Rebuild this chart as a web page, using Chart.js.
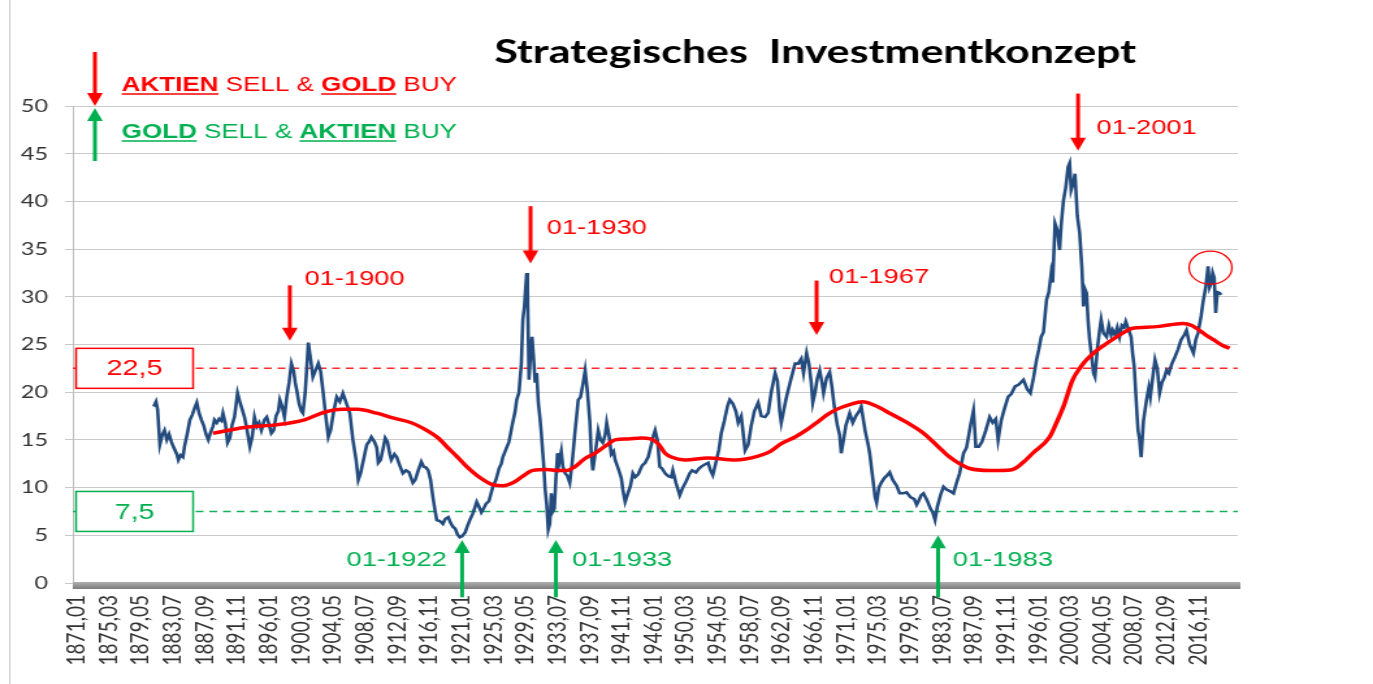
<!DOCTYPE html>
<html>
<head>
<meta charset="utf-8">
<script src="https://cdn.jsdelivr.net/npm/chart.js@4"></script>
<style>
  html, body { margin: 0; padding: 0; background: #fff; overflow: hidden; }
  #wrap { width: 1056px; height: 684px; transform: scaleX(1.3002); transform-origin: 0 0; }
</style>
</head>
<body>
<div id="wrap"><canvas id="chart"></canvas></div>
<script>
// x tick labels (every 50 months)
const tickLabels = ['1871,01','1875,03','1879,05','1883,07','1887,09','1891,11','1896,01','1900,03','1904,05','1908,07','1912,09','1916,11','1921,01','1925,03','1929,05','1933,07','1937,09','1941,11','1946,01','1950,03','1954,05','1958,07','1962,09','1966,11','1971,01','1975,03','1979,05','1983,07','1987,09','1991,11','1996,01','2000,03','2004,05','2008,07','2012,09','2016,11'];

// KGV (blue), decimal years
const capeYears = [1881.0,1881.3,1881.5,1881.8,1882.1,1882.4,1882.7,1883.0,1883.3,1883.6,1884.0,1884.2,1884.5,1884.8,1885.0,1885.4,1885.7,1886.0,1886.3,1886.6,1886.9,1887.2,1887.5,1887.8,1888.1,1888.4,1888.7,1888.9,1889.2,1889.5,1889.8,1890.0,1890.3,1890.6,1890.9,1891.2,1891.5,1891.9,1892.2,1892.5,1892.8,1893.1,1893.5,1893.8,1894.1,1894.4,1894.7,1895.0,1895.4,1895.7,1896.0,1896.3,1896.6,1896.9,1897.2,1897.4,1897.7,1898.0,1898.3,1898.6,1898.9,1899.2,1899.4,1899.6,1899.9,1900.2,1900.4,1900.7,1900.9,1901.1,1901.4,1901.7,1902.0,1902.4,1902.7,1903.0,1903.3,1903.7,1904.0,1904.4,1904.8,1905.2,1905.6,1905.9,1906.2,1906.5,1906.9,1907.3,1907.6,1907.9,1908.3,1908.7,1909.0,1909.3,1909.7,1910.0,1910.2,1910.5,1910.8,1911.1,1911.4,1911.7,1911.9,1912.3,1912.6,1913.0,1913.4,1913.8,1914.2,1914.7,1915.0,1915.4,1915.8,1916.1,1916.4,1916.7,1917.0,1917.3,1917.6,1917.8,1918.2,1918.6,1918.9,1919.3,1919.6,1919.9,1920.2,1920.5,1920.8,1921.1,1921.5,1921.8,1922.1,1922.5,1922.8,1923.0,1923.3,1923.6,1923.9,1924.2,1924.6,1925.1,1925.5,1925.9,1926.2,1926.4,1926.8,1927.2,1927.6,1928.0,1928.2,1928.5,1928.8,1929.0,1929.2,1929.5,1929.6,1929.8,1930.0,1930.2,1930.4,1930.6,1930.8,1931.0,1931.2,1931.4,1931.7,1931.9,1932.1,1932.3,1932.5,1932.7,1932.9,1933.1,1933.3,1933.5,1933.7,1934.0,1934.2,1934.5,1934.8,1935.1,1935.4,1935.8,1936.2,1936.5,1936.8,1937.1,1937.4,1937.7,1937.9,1938.1,1938.4,1938.8,1939.1,1939.4,1939.7,1939.9,1940.2,1940.5,1940.8,1941.0,1941.4,1941.8,1942.0,1942.3,1942.7,1943.0,1943.3,1943.6,1944.0,1944.5,1944.9,1945.3,1945.7,1946.0,1946.2,1946.5,1946.8,1947.1,1947.5,1947.9,1948.3,1948.5,1948.9,1949.4,1949.8,1950.2,1950.7,1951.0,1951.5,1951.9,1952.2,1952.6,1953.1,1953.4,1953.7,1954.1,1954.5,1954.8,1955.2,1955.6,1955.9,1956.3,1956.7,1957.0,1957.4,1957.9,1958.3,1958.7,1959.1,1959.6,1960.0,1960.5,1960.9,1961.3,1961.8,1962.1,1962.4,1962.6,1962.9,1963.2,1963.5,1963.9,1964.4,1964.8,1965.2,1965.5,1965.9,1966.2,1966.5,1966.7,1967.0,1967.3,1967.6,1967.9,1968.1,1968.5,1968.9,1969.2,1969.5,1969.9,1970.2,1970.4,1970.7,1971.0,1971.5,1971.9,1972.3,1972.8,1973.0,1973.5,1973.9,1974.1,1974.5,1974.8,1975.0,1975.3,1975.6,1976.0,1976.4,1976.7,1977.1,1977.6,1978.0,1978.5,1978.9,1979.4,1979.9,1980.2,1980.4,1980.8,1981.1,1981.6,1982.0,1982.3,1982.6,1982.9,1983.3,1983.7,1984.1,1984.6,1985.0,1985.4,1985.8,1986.3,1986.7,1987.2,1987.6,1987.9,1988.3,1988.7,1989.2,1989.7,1990.1,1990.5,1990.8,1991.2,1991.6,1992.1,1992.5,1993.0,1993.5,1994.1,1994.6,1995.0,1995.4,1995.8,1996.1,1996.4,1996.7,1997.1,1997.4,1997.7,1997.9,1998.2,1998.5,1998.8,1999.0,1999.3,1999.6,1999.9,2000.1,2000.3,2000.6,2000.8,2001.1,2001.4,2001.7,2001.9,2002.1,2002.3,2002.5,2002.7,2003.0,2003.2,2003.4,2003.7,2004.0,2004.2,2004.5,2004.9,2005.2,2005.5,2005.7,2006.0,2006.3,2006.6,2006.9,2007.2,2007.4,2007.8,2008.1,2008.3,2008.5,2008.8,2009.0,2009.2,2009.4,2009.7,2010.1,2010.4,2010.6,2010.9,2011.2,2011.5,2011.8,2012.1,2012.4,2012.7,2013.0,2013.4,2013.8,2014.2,2014.6,2015.0,2015.3,2015.7,2016.2,2016.5,2016.8,2017.2,2017.5,2017.8,2018.1,2018.3,2018.5,2018.7,2018.9,2019.1,2019.3,2019.6,2019.8];
const capeValues = [18.5,19.0,18.2,14.5,15.5,16.0,15.0,15.6,14.8,14.2,13.5,12.9,13.4,13.2,14.3,15.8,17.1,17.6,18.3,18.9,17.8,17.1,16.5,15.6,15.0,15.8,16.4,17.1,16.8,17.2,17.0,17.8,16.8,14.7,15.2,16.6,17.4,19.9,19.0,18.2,17.4,16.2,14.3,15.3,17.4,16.4,16.8,16.0,17.1,17.4,16.6,15.7,16.0,17.5,18.0,19.2,18.5,17.4,19.5,21.0,23.0,22.2,21.0,20.2,18.8,18.0,17.8,20.0,22.5,25.2,23.5,21.6,22.2,23.0,22.2,20.2,18.0,15.3,16.0,18.0,19.5,19.0,19.9,19.2,18.5,17.8,15.0,13.0,10.8,11.5,13.0,14.5,14.8,15.3,14.8,14.2,12.6,12.9,14.0,15.2,14.8,13.5,12.9,13.5,13.2,12.3,11.5,11.8,11.6,10.5,10.8,11.8,12.7,12.2,12.1,11.8,10.8,9.0,7.5,6.6,6.5,6.2,6.7,6.9,6.3,5.9,5.7,5.1,4.8,4.9,5.3,6.0,6.6,7.3,8.0,8.5,8.0,7.4,7.8,8.3,8.6,10.1,10.8,12.0,12.5,13.2,14.0,14.8,16.5,18.0,19.2,20.0,23.0,27.6,29.0,32.5,31.0,21.3,24.0,25.8,23.5,21.0,22.0,19.0,17.5,15.7,12.5,9.8,8.2,5.6,6.2,9.4,7.5,7.8,11.0,13.6,12.5,13.8,12.2,11.5,11.2,10.5,12.5,16.0,19.2,19.5,20.8,22.3,20.0,17.0,13.5,11.8,13.5,16.0,15.0,14.7,15.5,16.8,15.5,13.5,13.8,12.9,12.0,11.0,9.8,8.5,9.5,10.2,11.5,11.1,11.4,12.3,12.6,13.2,14.5,15.5,16.0,15.0,12.2,12.0,11.5,11.2,11.1,11.8,10.5,9.2,10.0,10.6,11.5,11.8,11.6,12.0,12.2,12.4,12.6,11.8,11.3,12.6,14.0,15.7,17.0,18.5,19.2,18.8,18.0,16.8,17.5,13.9,14.5,16.5,18.0,18.9,17.5,17.4,17.8,20.0,22.0,21.2,18.0,16.8,18.0,19.2,20.2,21.5,23.0,23.0,23.5,22.0,24.1,23.0,21.0,18.9,20.0,21.5,22.3,21.0,19.9,21.5,22.1,20.5,18.5,16.5,15.5,13.6,15.0,16.5,17.8,16.8,17.5,18.1,18.5,16.0,14.5,13.6,11.0,9.0,8.4,10.0,10.5,11.0,11.3,11.6,10.8,10.2,9.4,9.4,9.5,9.0,8.8,8.2,8.5,9.2,9.4,8.6,7.8,7.4,6.6,8.0,9.2,10.1,9.8,9.6,9.4,10.5,11.5,13.6,14.2,16.5,18.1,14.3,14.3,14.8,16.0,17.4,16.8,17.2,15.0,17.0,18.2,19.5,19.8,20.6,20.8,21.3,20.3,19.9,21.5,23.4,24.5,25.8,26.3,29.7,30.5,32.5,31.5,37.7,37.0,34.9,37.5,40.1,41.5,43.6,44.0,41.2,42.0,42.9,38.5,36.7,33.0,29.0,30.8,30.4,27.5,25.5,23.5,22.0,21.6,24.5,26.5,27.6,26.2,25.8,27.0,26.0,26.5,26.0,26.8,25.8,27.0,26.8,27.4,26.5,25.8,24.0,22.7,18.5,16.0,15.0,13.2,17.0,19.2,20.5,19.5,21.5,23.4,22.5,19.9,21.0,21.5,22.3,22.0,23.0,23.7,24.5,25.5,26.0,26.5,25.0,24.1,25.5,26.2,28.0,29.7,31.0,33.2,31.0,31.4,32.5,32.0,28.3,30.5,30.4,30.2];

// smoothed average (red)
const maYears = [1888.7,1892.8,1897.2,1900.6,1903.2,1905.5,1907.5,1910.0,1912.1,1914.5,1916.5,1918.0,1919.1,1920.5,1921.7,1923.5,1925.1,1926.5,1927.7,1929.0,1930.3,1932.1,1933.5,1934.7,1935.8,1937.0,1938.4,1939.8,1941.0,1942.7,1944.4,1945.6,1946.6,1947.5,1948.3,1950.1,1953.1,1956.6,1959.6,1961.2,1962.6,1964.4,1966.0,1967.2,1968.5,1969.8,1971.5,1973.2,1974.8,1976.7,1979.0,1981.1,1983.0,1984.5,1986.0,1987.1,1989.7,1991.0,1992.7,1994.0,1995.3,1997.5,1998.5,1999.3,2000.5,2001.5,2002.3,2003.5,2004.9,2007.0,2008.3,2010.0,2011.8,2014.8,2016.0,2016.6,2017.8,2018.8,2020.0,2020.9];
const maValues = [15.7,16.3,16.6,17.1,17.9,18.2,18.2,17.8,17.3,16.8,16.0,15.2,14.3,13.2,12.2,11.0,10.3,10.2,10.5,11.2,11.8,11.9,11.8,11.8,12.2,13.0,13.6,14.4,15.0,15.1,15.2,15.1,14.6,13.6,13.2,12.9,13.1,12.9,13.3,13.8,14.6,15.3,16.1,16.8,17.6,18.2,18.7,19.0,18.6,17.8,16.8,15.7,14.3,13.2,12.4,12.0,11.8,11.8,11.9,12.6,13.6,15.3,17.0,18.5,21.3,22.6,23.4,24.3,25.1,26.2,26.7,26.8,26.9,27.2,27.0,26.7,26.0,25.5,24.9,24.6];

const upperLevel = 22.5;
const lowerLevel = 7.5;

// signals: [x year, arrow start value, arrow tip value, label, label year, label value]
const sellSignals = [
  [1898.7, 31.2, 25.4, '01-1900', 1900.6, 31.8],
  [1930.0, 39.5, 33.5, '01-1930', 1932.1, 37.2],
  [1967.2, 31.7, 26.0, '01-1967', 1968.8, 32.1],
  [2001.2, 51.3, 45.3, '01-2001', 2003.6, 47.7]
];
const buySignals = [
  [1921.1, -1.5, 4.5, '01-1922', 1919.1, 2.4, 'right'],
  [1933.3, -1.5, 4.5, '01-1933', 1935.4, 2.4, 'left'],
  [1983.0, -1.5, 5.0, '01-1983', 1984.9, 2.4, 'left']
];

const tickValues = tickLabels.map(s => { const p = s.split(','); return +p[0] + (p[1] - 1) / 12; });

const RED = '#ff0000';
const GREEN = '#00b050';

function arrow(ctx, x, y1, y2, color) {
  const dir = y2 > y1 ? 1 : -1;
  const head = 13;
  ctx.save();
  ctx.strokeStyle = color;
  ctx.fillStyle = color;
  ctx.lineWidth = 3;
  ctx.beginPath();
  ctx.moveTo(x, y1);
  ctx.lineTo(x, y2 - dir * head + dir);
  ctx.stroke();
  ctx.beginPath();
  ctx.moveTo(x - 6, y2 - dir * head);
  ctx.lineTo(x + 6, y2 - dir * head);
  ctx.lineTo(x, y2);
  ctx.closePath();
  ctx.fill();
  ctx.restore();
}

function richLine(ctx, x, y, parts, color) {
  ctx.save();
  ctx.fillStyle = color;
  ctx.strokeStyle = color;
  ctx.textBaseline = 'alphabetic';
  ctx.textAlign = 'left';
  parts.forEach(p => {
    ctx.font = (p[1] ? 'bold ' : '') + '20px "Liberation Sans", Arial, sans-serif';
    const w = ctx.measureText(p[0]).width;
    ctx.fillText(p[0], x, y);
    if (p[1]) {
      ctx.lineWidth = 1.5;
      ctx.beginPath();
      ctx.moveTo(x, y + 3);
      ctx.lineTo(x + w, y + 3);
      ctx.stroke();
    }
    x += w;
  });
  ctx.restore();
}

const decorPlugin = {
  id: 'decor',
  beforeDraw(chart) {
    const ctx = chart.ctx;
    ctx.save();
    ctx.strokeStyle = '#c8c8c8';
    ctx.lineWidth = 1;
    ctx.beginPath();
    ctx.moveTo(7.5, 0);
    ctx.lineTo(7.5, chart.height);
    ctx.stroke();
    ctx.restore();
  },
  afterDraw(chart) {
    const ctx = chart.ctx;
    const xs = chart.scales.x, ys = chart.scales.y;
    const area = chart.chartArea;

    // thick x axis bar
    ctx.save();
    const g = ctx.createLinearGradient(0, area.bottom - 1, 0, area.bottom + 6);
    g.addColorStop(0, '#b0b0b0');
    g.addColorStop(1, '#7c7c7c');
    ctx.fillStyle = g;
    ctx.fillRect(area.left, area.bottom - 1, area.right - area.left + 2, 7);
    ctx.restore();

    // level boxes
    [[upperLevel, RED, '22,5'], [lowerLevel, GREEN, '7,5']].forEach(b => {
      const cy = ys.getPixelForValue(b[0]);
      const bx = area.left + 2.5, bw = 90, bh = 40;
      ctx.save();
      ctx.fillStyle = '#fff';
      ctx.fillRect(bx, cy - bh / 2, bw, bh);
      ctx.strokeStyle = b[1];
      ctx.lineWidth = 1.5;
      ctx.strokeRect(bx, cy - bh / 2, bw, bh);
      ctx.fillStyle = b[1];
      ctx.font = '22px "Liberation Sans", Arial, sans-serif';
      ctx.textAlign = 'center';
      ctx.textBaseline = 'middle';
      ctx.fillText(b[2], bx + bw / 2, cy + 1);
      ctx.restore();
    });

    // title
    ctx.save();
    ctx.fillStyle = '#000';
    ctx.font = 'bold 33px Lato, "Open Sans", sans-serif';
    ctx.textAlign = 'center';
    ctx.textBaseline = 'middle';
    ctx.fillText('Strategisches  Investmentkonzept', 627, 52);
    ctx.restore();

    // legend
    arrow(ctx, 73, 52, 106, RED);
    arrow(ctx, 73, 161, 108, GREEN);
    richLine(ctx, 93.6, 91, [['AKTIEN', true], [' SELL & ', false], ['GOLD', true], [' BUY', false]], RED);
    richLine(ctx, 93.6, 138, [['GOLD', true], [' SELL & ', false], ['AKTIEN', true], [' BUY', false]], GREEN);

    // signals
    ctx.save();
    ctx.font = '21px "Liberation Sans", Arial, sans-serif';
    ctx.textBaseline = 'middle';
    sellSignals.forEach(s => {
      const x = xs.getPixelForValue(s[0]);
      arrow(ctx, x, ys.getPixelForValue(s[1]), ys.getPixelForValue(s[2]), RED);
      ctx.fillStyle = RED;
      ctx.textAlign = 'left';
      ctx.fillText(s[3], xs.getPixelForValue(s[4]), ys.getPixelForValue(s[5]));
    });
    buySignals.forEach(s => {
      const x = xs.getPixelForValue(s[0]);
      arrow(ctx, x, ys.getPixelForValue(s[1]), ys.getPixelForValue(s[2]), GREEN);
      ctx.fillStyle = GREEN;
      ctx.textAlign = s[6];
      ctx.fillText(s[3], xs.getPixelForValue(s[4]), ys.getPixelForValue(s[5]));
    });
    ctx.restore();

    // circle around the latest peak
    ctx.save();
    ctx.strokeStyle = RED;
    ctx.lineWidth = 1.3;
    ctx.beginPath();
    ctx.arc(xs.getPixelForValue(2018.42), ys.getPixelForValue(33.05), 16.5, 0, Math.PI * 2);
    ctx.stroke();
    ctx.restore();
  }
};

const xMin = 1870.48, xMax = 2021.97;

new Chart(document.getElementById('chart'), {
  type: 'line',
  data: {
    datasets: [
      {
        label: 'Durchschnitt',
        data: maYears.map((x, i) => ({ x: x, y: maValues[i] })),
        borderColor: RED,
        borderWidth: 3.5,
        pointRadius: 0,
        cubicInterpolationMode: 'monotone',
        order: 0
      },
      {
        label: 'KGV',
        data: capeYears.map((x, i) => ({ x: x, y: capeValues[i] })),
        borderColor: '#234b7e',
        borderWidth: 2.6,
        pointRadius: 0,
        order: 1
      },
      {
        label: '22,5',
        data: [{ x: xMin, y: upperLevel }, { x: xMax, y: upperLevel }],
        borderColor: '#ff2a2a',
        borderWidth: 1.5,
        borderDash: [6, 4.5],
        pointRadius: 0,
        order: 2
      },
      {
        label: '7,5',
        data: [{ x: xMin, y: lowerLevel }, { x: xMax, y: lowerLevel }],
        borderColor: '#16b05a',
        borderWidth: 1.5,
        borderDash: [6, 4.5],
        pointRadius: 0,
        order: 3
      }
    ]
  },
  options: {
    responsive: true,
    maintainAspectRatio: false,
    animation: false,
    layout: { padding: { left: 6, top: 106, right: 104, bottom: 8 } },
    plugins: { legend: { display: false }, tooltip: { enabled: false }, title: { display: false } },
    scales: {
      x: {
        type: 'linear',
        min: xMin,
        max: xMax,
        afterBuildTicks: axis => { axis.ticks = tickValues.map(v => ({ value: v })); },
        afterFit: axis => { axis.height = 93; },
        grid: { display: false, drawTicks: false },
        border: { display: false },
        ticks: {
          autoSkip: false,
          minRotation: 90,
          maxRotation: 90,
          padding: 12,
          color: '#333',
          font: { family: 'Lato, sans-serif', size: 19 },
          callback: (v, i) => tickLabels[i]
        }
      },
      y: {
        min: 0,
        max: 50,
        afterFit: axis => { axis.width = 50; },
        ticks: {
          stepSize: 5,
          padding: 13,
          color: '#333',
          font: { family: 'Lato, sans-serif', size: 18 }
        },
        grid: { color: '#cacaca', lineWidth: 1, tickLength: 6 },
        border: { display: true, color: '#bdbdbd' }
      }
    }
  },
  plugins: [decorPlugin]
});
</script>
</body>
</html>
